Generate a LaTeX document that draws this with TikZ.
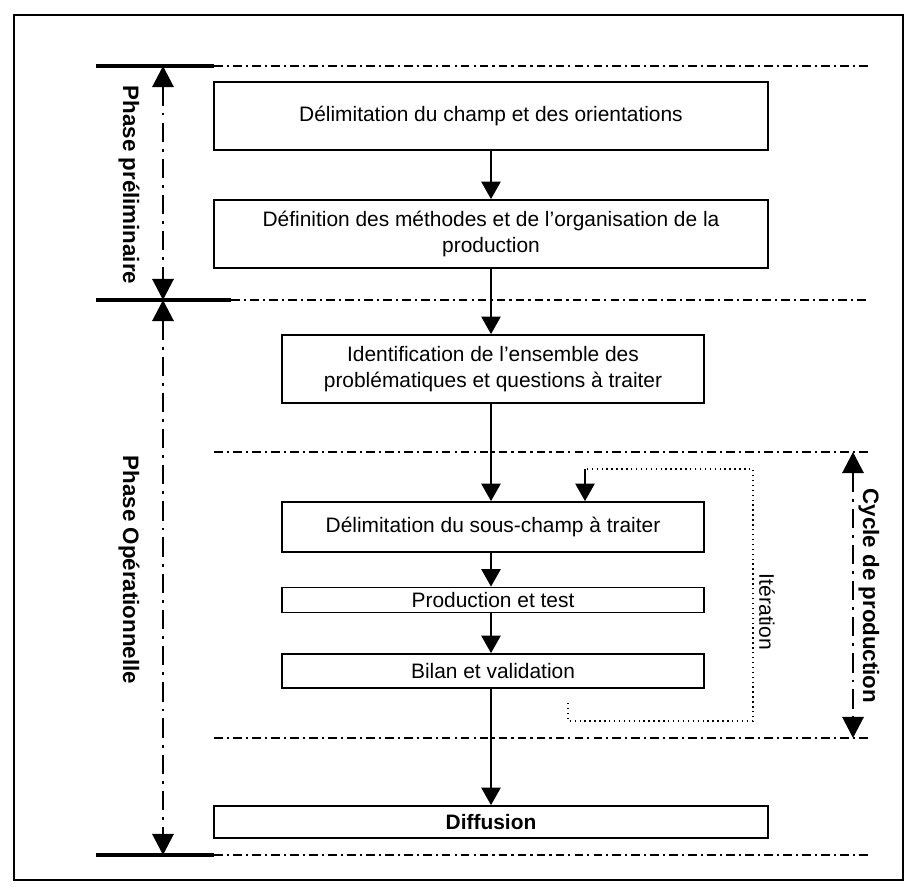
\documentclass[tikz,border=0pt]{standalone}
\usepackage{fontspec}
\setmainfont{Liberation Sans}
\usetikzlibrary{arrows.meta}

\tikzset{
  stepbox/.style={draw,line width=1pt,align=center,inner sep=2pt,
    font=\fontsize{11.9}{14.5}\selectfont},
  flow/.style={-{Triangle[length=10pt,width=11pt]},line width=1pt},
  phaseline/.style={line width=1.7pt,dash pattern=on 11pt off 4pt on 1.6pt off 4pt},
  phasearrow/.style={phaseline,{Triangle[length=12pt,width=12pt]}-{Triangle[length=12pt,width=12pt]}},
  sepline/.style={line width=1.1pt,dash pattern=on 5pt off 2.3pt on 1.2pt off 2.3pt},
  thickline/.style={line width=2.4pt},
  phaselabel/.style={font=\fontsize{12.7}{14}\selectfont\bfseries,rotate=-90},
}

\begin{document}
\begin{tikzpicture}[x=0.02cm,y=-0.02cm]
  \useasboundingbox (0,0) rectangle (917,895);
  \draw[line width=0.6pt] (14,15) rectangle (903,880);

  % separating lines
  \draw[thickline] (96,66) -- (214,66);
  \draw[sepline] (214,66) -- (870,66);
  \draw[thickline] (96,300) -- (231,300);
  \draw[sepline] (231,300) -- (870,300);
  \draw[sepline] (214,452) -- (870,452);
  \draw[sepline] (214,738) -- (870,738);
  \draw[thickline] (96,855) -- (214,855);
  \draw[sepline] (214,855) -- (870,855);

  % steps
  \node[stepbox,minimum width=554*0.02cm,minimum height=68*0.02cm] (champ) at (491,116)
    {Délimitation du champ et des orientations};
  \node[stepbox,minimum width=554*0.02cm,minimum height=68*0.02cm] (methodes) at (491,234)
    {Définition des méthodes et de l'organisation de la\\production};
  \node[stepbox,minimum width=422*0.02cm,minimum height=68*0.02cm] (problemes) at (493,369)
    {Identification de l’ensemble des\\problématiques et questions à traiter};
  \node[stepbox,minimum width=422*0.02cm,minimum height=50*0.02cm] (souschamp) at (493,527)
    {Délimitation du sous-champ à traiter};
  \node[stepbox,minimum width=422*0.02cm,minimum height=25*0.02cm,inner sep=0pt] (production) at (493,600)
    {Production et test};
  \node[stepbox,minimum width=422*0.02cm,minimum height=34*0.02cm] (bilan) at (493,671)
    {Bilan et validation};
  \node[stepbox,minimum width=554*0.02cm,minimum height=32*0.02cm,font=\fontsize{11.9}{14}\selectfont\bfseries] (diffusion) at (491,822)
    {Diffusion};

  \draw[flow] (champ.south) -- (methodes.north);
  \draw[flow] (methodes.south) -- (problemes.north -| methodes.south);
  \draw[flow] (problemes.south -| methodes.south) -- (souschamp.north -| methodes.south);
  \draw[flow] (souschamp.south -| methodes.south) -- (production.north -| methodes.south);
  \draw[flow] (production.south -| methodes.south) -- (bilan.north -| methodes.south);
  \draw[flow] (bilan.south -| methodes.south) -- (diffusion.north);

  % iteration loop
  \coordinate (itstart) at (568,703);
  \coordinate (itback) at (585,469);
  \draw[line width=0.8pt,dotted] (itstart) -- (568,721) -- (753,721) -- (753,469) -- (itback);
  \draw[flow] (itback) -- (itback |- souschamp.north);
  \node[rotate=-90,font=\fontsize{12}{14}\selectfont] (iteration) at (767,612) {Itération};

  % phases
  \coordinate (pretop) at (163,66);
  \coordinate (premid) at (163,300);
  \coordinate (prebot) at (163,855);
  \draw[phasearrow] (pretop) -- (premid);
  \draw[phasearrow] (premid) -- (prebot);
  \node[phaselabel] (prelim) at (129,185) {Phase préliminaire};
  \node[phaselabel] (operation) at (129,570) {Phase Opérationnelle};

  \coordinate (cycletop) at (853,452);
  \coordinate (cyclebot) at (853,738);
  \draw[phasearrow] (cycletop) -- (cyclebot);
  \node[phaselabel] (cycle) at (869,596) {Cycle de production};
\end{tikzpicture}
\end{document}
